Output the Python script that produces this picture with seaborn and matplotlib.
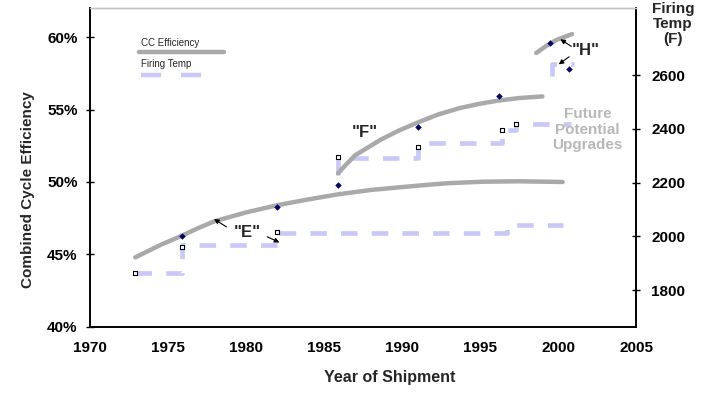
import matplotlib
matplotlib.use("Agg")
import matplotlib.pyplot as plt
import seaborn as sns
import pandas as pd
from matplotlib.ticker import FuncFormatter

# efficiency trend curves (year, % efficiency)
e_curve_years = [1972.9, 1974.5, 1975.9, 1977.0, 1978.0, 1980.0, 1982.0, 1984.0,
                 1985.9, 1988.0, 1990.0, 1991.8, 1993.0, 1995.2, 1997.5, 2000.3]
e_curve_eff = [44.8, 45.65, 46.3, 46.85, 47.3, 47.9, 48.4, 48.8,
               49.15, 49.45, 49.65, 49.82, 49.92, 50.02, 50.05, 50.0]
f_curve_years = [1985.9, 1986.5, 1987.0, 1988.0, 1988.6, 1989.8, 1991.0, 1992.3,
                 1993.7, 1995.0, 1996.2, 1997.6, 1999.0]
f_curve_eff = [50.6, 51.3, 51.85, 52.5, 52.9, 53.55, 54.1, 54.65,
               55.1, 55.4, 55.62, 55.8, 55.9]
h_curve_years = [1998.6, 1999.2, 1999.9, 2000.9]
h_curve_eff = [58.9, 59.35, 59.8, 60.2]

# individual efficiency points (diamonds)
eff_pt_years = [1975.9, 1982.0, 1985.9, 1991.0, 1996.2, 1999.5, 2000.7]
eff_pt_vals = [46.3, 48.3, 49.8, 53.8, 55.9, 59.6, 57.8]

# firing temperature steps (F)
e_temp_years = [1972.9, 1975.9, 1982.0, 1996.7, 2000.3]
e_temp_vals = [1864, 1968, 2013, 2043, 2043]
f_temp_years = [1985.9, 1985.9, 1991.0, 1996.4, 1997.3, 2000.8]
f_temp_vals = [2229, 2292, 2348, 2396, 2418, 2418]
h_temp_years = [1999.6, 1999.6, 2001.0]
h_temp_vals = [2597, 2641, 2641]

# firing temp points (open squares)
temp_pt_years = [1972.9, 1975.9, 1982.0, 1985.9, 1991.0, 1996.4, 1997.3]
temp_pt_vals = [1864, 1962, 2016, 2295, 2333, 2396, 2418]

sns.set_theme(style="white")
plt.rcParams["font.family"] = ["Liberation Sans", "DejaVu Sans"]

grey = "#a9a9a9"
lav = "#c9c9f7"
navy = "#000066"
dash = (0, (3.5, 3))

fig = plt.figure(figsize=(7.16, 3.93), dpi=100)
ax = fig.add_axes([0.1257, 0.168, 0.7626, 0.8116])
ax2 = ax.twinx()

# firing temperature on the right axis
for yrs, vals in [(e_temp_years, e_temp_vals), (f_temp_years, f_temp_vals), (h_temp_years, h_temp_vals)]:
    df = pd.DataFrame({"year": yrs, "temp": vals})
    sns.lineplot(data=df, x="year", y="temp", ax=ax2, color=lav, lw=3.4,
                 linestyle=dash, drawstyle="steps-post", estimator=None, sort=False)
sns.scatterplot(x=temp_pt_years, y=temp_pt_vals, ax=ax2, marker="s", s=8,
                facecolor="white", edgecolor="black", linewidth=0.8, zorder=5)

# efficiency on the left axis
for yrs, vals in [(e_curve_years, e_curve_eff), (f_curve_years, f_curve_eff), (h_curve_years, h_curve_eff)]:
    df = pd.DataFrame({"year": yrs, "eff": vals})
    sns.lineplot(data=df, x="year", y="eff", ax=ax, color=grey, lw=3.2,
                 estimator=None, sort=False, solid_capstyle="round",
                 solid_joinstyle="round")
sns.scatterplot(x=eff_pt_years, y=eff_pt_vals, ax=ax, marker="D", s=11,
                color=navy, linewidth=0, zorder=5)

ax.set_zorder(ax2.get_zorder() + 1)
ax.patch.set_visible(False)

ax.set_xlim(1970, 2005)
ax.set_ylim(40, 62)
ax2.set_ylim(1663, 2850)
ax.set_xticks(range(1970, 2006, 5))
ax.set_yticks([40, 45, 50, 55, 60])
ax2.set_yticks([1800, 2000, 2200, 2400, 2600])
ax.yaxis.set_major_formatter(FuncFormatter(lambda v, p: f"{v:.0f}%"))

for a in (ax, ax2):
    a.tick_params(axis="both", direction="inout", length=6, width=1, colors="black",
                  labelsize=11, pad=4)
    for lab in a.get_xticklabels() + a.get_yticklabels():
        lab.set_fontweight("bold")
    for s in a.spines.values():
        s.set_color("black")
        s.set_linewidth(1.2)
    a.spines["top"].set_color("#c4c4c4")
    a.spines["top"].set_linewidth(1.0)
ax.tick_params(axis="x", pad=7)
ax.tick_params(axis="y", pad=6)
ax2.tick_params(axis="y", pad=8)

ax.set_xlabel("Year of Shipment", fontsize=11.5, fontweight="bold")
ax.xaxis.set_label_coords(0.549, -0.135)
ax.set_ylabel("Combined Cycle Efficiency", fontsize=11, fontweight="bold")
ax.yaxis.set_label_coords(-0.1, 0.43)
ax2.set_ylabel("")
fig.text(0.94, 0.995, "Firing\nTemp\n(F)", ha="center", va="top", fontsize=11,
         fontweight="bold", linespacing=1.1)

# legend drawn by hand (label above its line)
ax.text(0.093, 0.89, "CC Efficiency", transform=ax.transAxes, fontsize=7, va="center")
ax.plot([0.090, 0.245], [0.862, 0.862], transform=ax.transAxes, color=grey, lw=3.2)
ax.text(0.093, 0.824, "Firing Temp", transform=ax.transAxes, fontsize=7, va="center")
ax.plot([0.093, 0.229], [0.79, 0.79], transform=ax.transAxes, color=lav, lw=3.2,
        linestyle=(0, (4.5, 4.5)))

# annotations
ax.text(1980.06, 46.55, '"E"', ha="center", va="center", fontsize=12, fontweight="bold")
arr = dict(arrowstyle="-|>", color="black", lw=0.8, mutation_scale=7)
ax.annotate("", xy=(1977.8, 47.55), xytext=(1978.9, 46.8), arrowprops=arr)
ax.annotate("", xy=(1982.3, 45.75), xytext=(1981.2, 46.3), arrowprops=arr)
ax.text(1987.6, 53.4, '"F"', ha="center", va="center", fontsize=12, fontweight="bold")
ax.text(2001.75, 59.1, '"H"', ha="center", va="center", fontsize=12, fontweight="bold")
ax.annotate("", xy=(2000.0, 59.95), xytext=(2001.0, 59.25), arrowprops=arr)
ax.annotate("", xy=(1999.9, 58.0), xytext=(2000.85, 58.75), arrowprops=arr)
ax.text(2001.9, 53.6, "Future\nPotential\nUpgrades", ha="center", va="center",
        fontsize=11, fontweight="bold", color="#b8b8b8", linespacing=1.15)

fig.savefig("out.png", dpi=100)
